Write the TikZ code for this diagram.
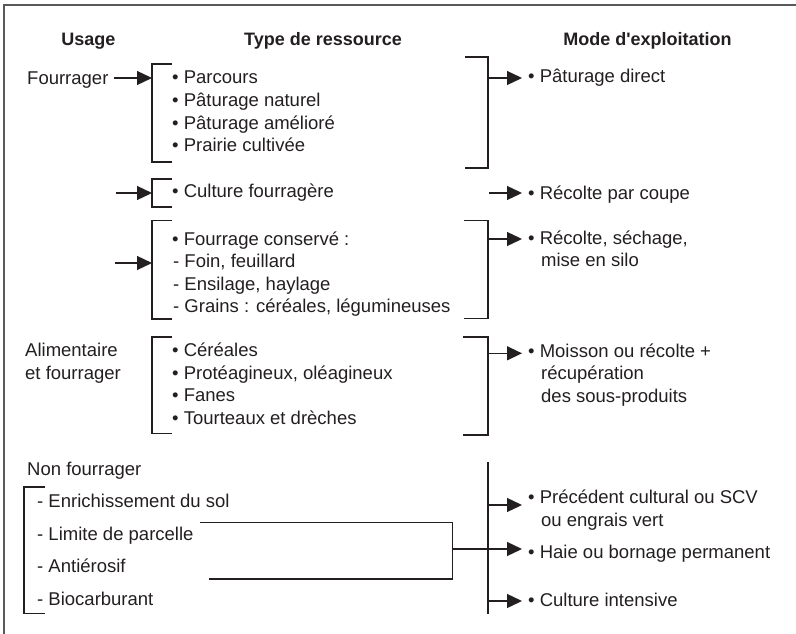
\documentclass[tikz,border=0pt]{standalone}
\usepackage{fontspec}
\setmainfont{Liberation Sans}
\usetikzlibrary{arrows.meta}
\definecolor{ink}{HTML}{231F20}
\definecolor{framegray}{HTML}{58595B}

\begin{document}
\begin{tikzpicture}[x=1pt,y=-1pt,
txt/.style={anchor=base west,inner sep=0pt,text=ink,font=\fontsize{18.5}{22.5}\selectfont},
head/.style={anchor=base,inner sep=0pt,text=ink,font=\bfseries\fontsize{18}{22}\selectfont},
brk/.style={draw=ink,line width=1.3pt},
arr/.style={draw=ink,line width=1.3pt,-{Triangle[length=15pt,width=14pt]}}]

\useasboundingbox (0,0) rectangle (796,634);
\draw[framegray,line width=1.5pt] (4,634) -- (4,5) -- (796,5);

\node[head] (0) at (88.5,46) {Usage};
\node[head] (1) at (323,46) {Type de ressource};
\node[head] (2) at (647.5,46) {Mode d\textquotesingle exploitation};

\node[txt] (3) at (27,84.5) {Fourrager};
\node[txt] (4) at (25,356.7) {Alimentaire};
\node[txt] (5) at (25,379) {et fourrager};
\node[txt] (6) at (27,475) {Non fourrager};

\node[txt] (7) at (172,84) {• Parcours};
\node[txt] (8) at (172,106.5) {• Pâturage naturel};
\node[txt] (9) at (172,129) {• Pâturage amélioré};
\node[txt] (10) at (172,151.5) {• Prairie cultivée};
\node[txt] (11) at (172,197) {• Culture fourragère};
\node[txt] (12) at (172,245) {• Fourrage conservé :};
\node[txt] (13) at (173,267.5) {- Foin, feuillard};
\node[txt] (14) at (173,290) {- Ensilage, haylage};
\node[txt] (15) at (173,312.5) {- Grains : céréales, légumineuses};
\node[txt] (16) at (172,356.7) {• Céréales};
\node[txt] (17) at (172,379) {• Protéagineux, oléagineux};
\node[txt] (18) at (172,401.5) {• Fanes};
\node[txt] (19) at (172,424) {• Tourteaux et drèches};

\node[txt] (20) at (37,507.7) {- Enrichissement du sol};
\node[txt] (21) at (37,540.7) {- Limite de parcelle};
\node[txt] (22) at (37,572.7) {- Antiérosif};
\node[txt] (23) at (37,605) {- Biocarburant};

\node[txt] (24) at (528,83) {• Pâturage direct};
\node[txt] (25) at (528,199) {• Récolte par coupe};
\node[txt] (26) at (528,244) {• Récolte, séchage,};
\node[txt] (27) at (541,266.7) {mise en silo};
\node[txt] (28) at (528,357.3) {• Moisson ou récolte +};
\node[txt] (29) at (541,379.7) {récupération};
\node[txt] (30) at (541,402.7) {des sous-produits};
\node[txt] (31) at (528,503.3) {• Précédent cultural ou SCV};
\node[txt] (32) at (541,526.7) {ou engrais vert};
\node[txt] (33) at (528,558.3) {• Haie ou bornage permanent};
\node[txt] (34) at (528,606) {• Culture intensive};

\coordinate (l1) at (152,78);
\coordinate (l2) at (152,193);
\coordinate (l3) at (152,263);
\coordinate (f2) at (116,193);
\coordinate (f3) at (115,263);
\coordinate (r1) at (488,78);
\coordinate (r2) at (489,193);
\coordinate (r3) at (488,239);
\coordinate (r4) at (488,353.3);
\coordinate (r5) at (488,505);
\coordinate (r6) at (452.3,549);
\coordinate (r7) at (488,601);

\draw[brk] (172,64) -- (152,64) -- (152,162) -- (172,162);
\draw[brk] (465,57) -- (488,57) -- (488,168) -- (465,168);
\draw[brk] (172,179) -- (152,179) -- (152,207) -- (172,207);
\draw[brk] (172,220.5) -- (152,220.5) -- (152,319) -- (172,319);
\draw[brk] (464,220.5) -- (488,220.5) -- (488,318.5) -- (464,318.5);
\draw[brk] (172,337) -- (152,337) -- (152,433.5) -- (172,433.5);
\draw[brk] (463,337) -- (488,337) -- (488,435) -- (463,435);
\draw[brk] (45,487) -- (24,487) -- (24,613.5) -- (45,613.5);
\draw[brk] (488,462) -- (488,614);
\draw[brk] (200,522.3) -- (452.3,522.3) -- (452.3,579) -- (209,579);

 \path
([xshift=5pt]3.east |- l1) edge[arr] (l1)
(f2) edge[arr] (l2)
(f3) edge[arr] (l3)
;

 \path
(r1) edge[arr, shorten >=6pt] (r1 -| 24.west)
(r2) edge[arr, shorten >=6pt] (r2 -| 25.west)
(r3) edge[arr, shorten >=6pt] (r3 -| 26.west)
(r4) edge[arr, shorten >=6pt] (r4 -| 28.west)
(r5) edge[arr, shorten >=6pt] (r5 -| 31.west)
(r6) edge[arr, shorten >=6pt] (r6 -| 33.west)
(r7) edge[arr, shorten >=6pt] (r7 -| 34.west)
;

\end{tikzpicture}
\end{document}
